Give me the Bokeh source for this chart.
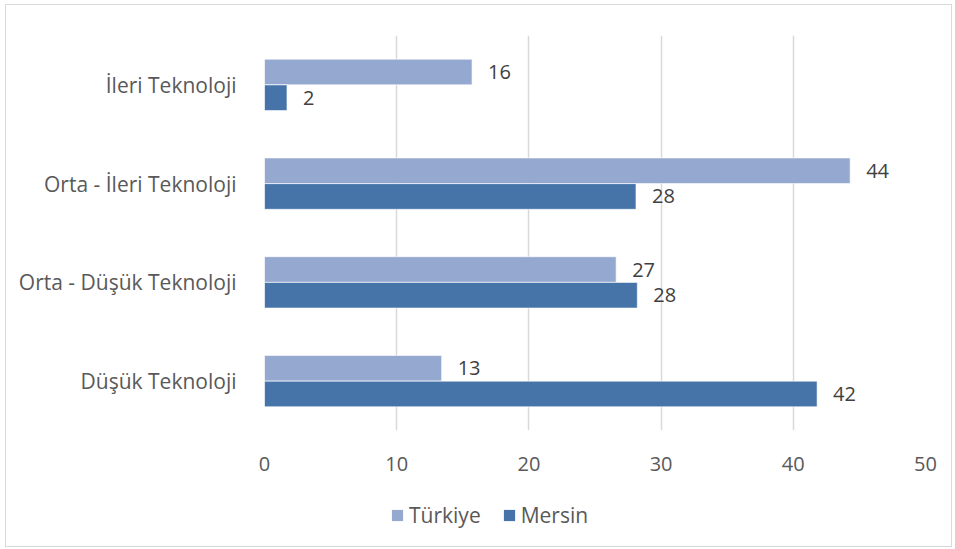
from bokeh.plotting import figure
from bokeh.layouts import column
from bokeh.models import ColumnDataSource, Legend, LegendItem, FixedTicker
from bokeh.transform import dodge
from bokeh.core.properties import value
from bokeh.embed import file_html
from bokeh.resources import INLINE

categories = ["İleri Teknoloji", "Orta - İleri Teknoloji", "Orta - Düşük Teknoloji", "Düşük Teknoloji"]
turkiye = [15.7, 44.3, 26.6, 13.4]
mersin = [1.7, 28.1, 28.2, 41.8]
series_names = ["Türkiye", "Mersin"]
x_ticks = [0, 10, 20, 30, 40, 50]

FONT = "Open Sans"
FS_TXT = "21px"
FS_NUM = "20px"
C_TR = "#95A9D0"
C_ME = "#4674A8"

src = ColumnDataSource(dict(
    cat=categories,
    tr=turkiye,
    me=mersin,
    tr_lab=[str(int(v + 0.5)) for v in turkiye],
    me_lab=[str(int(v + 0.5)) for v in mersin],
))

W = 945
H1, H2 = 480, 61
p = figure(
    width=W, height=H1,
    y_range=list(reversed(categories)),
    x_range=(0, 50),
    output_backend="svg",
    toolbar_location=None,
    min_border_left=258, min_border_right=W - 919,
    min_border_top=30, min_border_bottom=H1 - 425,
)
p.outline_line_color = None

bh = 0.26
r1 = p.hbar(y=dodge("cat", bh / 2, range=p.y_range), right="tr", left=0, height=bh,
            source=src, fill_color=C_TR, line_color="white", line_width=0.6)
r2 = p.hbar(y=dodge("cat", -bh / 2, range=p.y_range), right="me", left=0, height=bh,
            source=src, fill_color=C_ME, line_color="white", line_width=0.6)

p.text(x="tr", y=dodge("cat", bh / 2, range=p.y_range), text="tr_lab", source=src,
       x_offset=16, text_baseline="middle", text_align="left",
       text_font=value(FONT), text_font_size=FS_NUM, text_color="#404040")
p.text(x="me", y=dodge("cat", -bh / 2, range=p.y_range), text="me_lab", source=src,
       x_offset=16, text_baseline="middle", text_align="left",
       text_font=value(FONT), text_font_size=FS_NUM, text_color="#404040")

p.xaxis.ticker = FixedTicker(ticks=x_ticks)
for ax in (p.xaxis[0], p.yaxis[0]):
    ax.axis_line_color = None
    ax.major_tick_line_color = None
    ax.minor_tick_line_color = None
    ax.major_label_text_font = FONT
    ax.major_label_text_color = "#595959"
p.xaxis.major_label_text_font_size = FS_NUM
p.yaxis.major_label_text_font_size = FS_TXT
p.xaxis.major_label_standoff = 20
p.yaxis.major_label_standoff = 22

p.ygrid.grid_line_color = None
p.xgrid.grid_line_color = "#d9d9d9"
p.xgrid.grid_line_width = 1.5

# legend strip (frame aligned with the main plot's frame by the column layout)
lg = figure(width=W, height=H2, x_range=(-2, -1), y_range=(0, 1),
            output_backend="svg", toolbar_location=None,
            x_axis_type=None, y_axis_type=None,
            min_border=0)
lg.outline_line_color = None
lg.grid.grid_line_color = None
# same series bars, placed outside the strip's visible ranges: they only feed the legend glyphs
l1 = lg.hbar(y=-5, right="tr", left=0, height=0.1, source=src, fill_color=C_TR, line_color=None)
l2 = lg.hbar(y=-5, right="me", left=0, height=0.1, source=src, fill_color=C_ME, line_color=None)
legend = Legend(
    items=[LegendItem(label=series_names[0], renderers=[l1]),
           LegendItem(label=series_names[1], renderers=[l2])],
    orientation="horizontal",
    location=(126, 17),
    glyph_width=14, glyph_height=14,
    label_text_font=FONT, label_text_font_size=FS_TXT, label_text_color="#595959",
    label_standoff=5, spacing=21, padding=2, margin=0,
    border_line_color=None, background_fill_alpha=0,
)
lg.add_layout(legend, "center")

layout = column(p, lg, spacing=0)
layout.margin = (4, 0, 0, 5)
layout.styles = {"border": "1px solid #d9d9d9"}

open("out.html", "w").write(file_html(layout, INLINE))
